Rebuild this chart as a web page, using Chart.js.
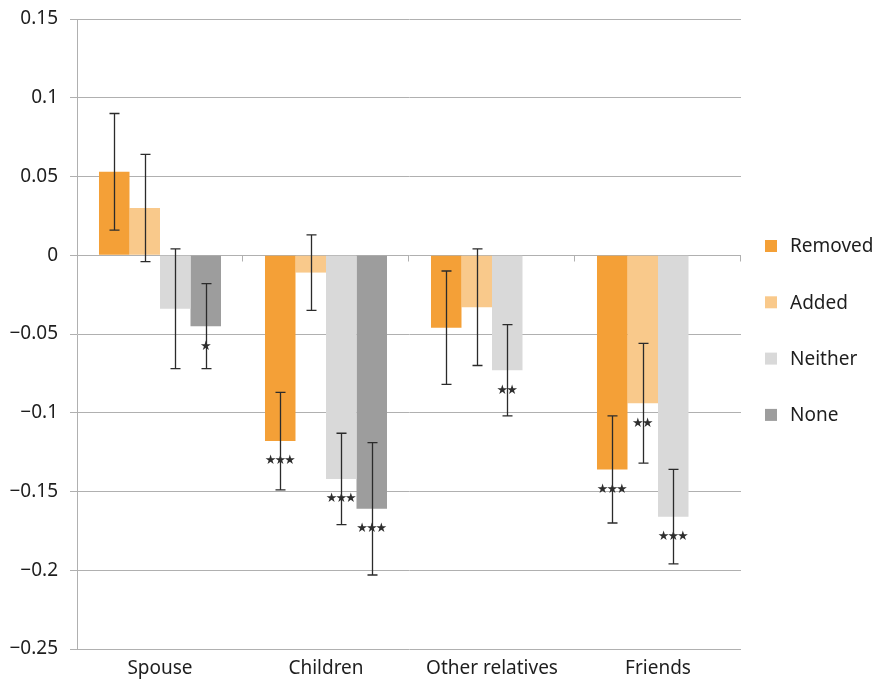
<!DOCTYPE html>
<html>
<head>
<meta charset="utf-8">
<script src="https://cdn.jsdelivr.net/npm/chart.js@4"></script>
<style>
  body { margin: 0; background: #fff; }
  #wrap { width: 881px; height: 680px; }
</style>
</head>
<body>
<div id="wrap"><canvas id="chart" width="881" height="680"></canvas></div>
<script>
const categories = ['Spouse', 'Children', 'Other relatives', 'Friends'];
const seriesNames = ['Removed', 'Added', 'Neither', 'None'];
const seriesColors = ['#f4a037', '#f9c98b', '#d9d9d9', '#9d9d9d'];

// mean values per series (null = not shown)
const removed = [0.053, -0.118, -0.046, -0.136];
const added   = [0.030, -0.011, -0.033, -0.094];
const neither = [-0.034, -0.142, -0.073, -0.166];
const none    = [-0.045, -0.161, null, null];

// error bar ends [low, high]
const removedErr = [[0.016, 0.090], [-0.149, -0.087], [-0.082, -0.010], [-0.170, -0.102]];
const addedErr   = [[-0.004, 0.064], [-0.035, 0.013], [-0.070, 0.004], [-0.132, -0.056]];
const neitherErr = [[-0.072, 0.004], [-0.171, -0.113], [-0.102, -0.044], [-0.196, -0.136]];
const noneErr    = [[-0.072, -0.018], [-0.203, -0.119], null, null];

// significance markers
const removedSig = ['', '***', '', '***'];
const addedSig   = ['', '', '', '**'];
const neitherSig = ['', '***', '**', '***'];
const noneSig    = ['*', '***', '', ''];

const yTicks = [0.15, 0.1, 0.05, 0, -0.05, -0.1, -0.15, -0.2, -0.25];

const FONT = "'Noto Sans', sans-serif";
const GRID = '#b0b0b0';
const TEXT = '#1e1e1e';

const values = [removed, added, neither, none];
const errs = [removedErr, addedErr, neitherErr, noneErr];
const sigs = [removedSig, addedSig, neitherSig, noneSig];

const datasets = seriesNames.map((name, i) => ({
    label: name,
    data: values[i],
    backgroundColor: seriesColors[i],
    borderWidth: 0,
    errorBars: errs[i],
    stars: sigs[i],
    barPercentage: 1,
    categoryPercentage: 0.735
}));

// error bars, stars, zero-line ticks and legend
const extras = {
    id: 'extras',
    afterDatasetsDraw(chart) {
        const ctx = chart.ctx;
        const y = chart.scales.y;
        ctx.save();

        // small ticks on zero line between categories
        const y0 = Math.round(y.getPixelForValue(0)) + 0.5;
        const step = (chart.chartArea.right - chart.chartArea.left) / categories.length;
        ctx.strokeStyle = GRID;
        ctx.lineWidth = 1;
        for (let i = 1; i <= categories.length; i++) {
            const px = Math.round(chart.chartArea.left + step * i) - 0.5;
            ctx.beginPath();
            ctx.moveTo(px, y0);
            ctx.lineTo(px, y0 + 6);
            ctx.stroke();
        }

        chart.data.datasets.forEach((ds, di) => {
            const meta = chart.getDatasetMeta(di);
            meta.data.forEach((bar, j) => {
                const e = ds.errorBars[j];
                if (!e) return;
                const cx = Math.round(bar.x) + 0.5;
                const lo = y.getPixelForValue(e[0]);
                const hi = y.getPixelForValue(e[1]);
                ctx.strokeStyle = '#2b2b2b';
                ctx.lineWidth = 1.3;
                ctx.beginPath();
                ctx.moveTo(cx, lo); ctx.lineTo(cx, hi);
                ctx.moveTo(cx - 5, lo); ctx.lineTo(cx + 5, lo);
                ctx.moveTo(cx - 5, hi); ctx.lineTo(cx + 5, hi);
                ctx.stroke();

                const s = ds.stars[j];
                if (s) {
                    const end = y.getPixelForValue(ds.data[j]);
                    ctx.fillStyle = '#2e2e2e';
                    ctx.font = "13px 'DejaVu Sans', sans-serif";
                    ctx.letterSpacing = '-2px';
                    ctx.textAlign = 'center';
                    ctx.textBaseline = 'middle';
                    ctx.fillText(s.replace(/\*/g, '\u2605'), bar.x - 1, end + 20);
                    ctx.letterSpacing = '0px';
                }
            });
        });

        // legend
        ctx.font = '19px ' + FONT;
        ctx.textAlign = 'left';
        ctx.textBaseline = 'middle';
        chart.data.datasets.forEach((ds, i) => {
            const cy = 246 + i * 56.3;
            ctx.fillStyle = ds.backgroundColor;
            ctx.fillRect(765, cy - 6, 12, 12);
            ctx.fillStyle = TEXT;
            ctx.fillText(ds.label, 790, cy + 1);
        });
        ctx.restore();
    }
};

new Chart(document.getElementById('chart'), {
    type: 'bar',
    data: { labels: categories, datasets: datasets },
    options: {
        responsive: false,
        devicePixelRatio: 1,
        animation: false,
        layout: { padding: { top: 19, right: 140, left: 0, bottom: 0 } },
        plugins: {
            legend: { display: false },
            tooltip: { enabled: false }
        },
        scales: {
            x: {
                grid: { display: false },
                border: { display: false },
                ticks: { color: TEXT, font: { family: FONT, size: 19 }, padding: 0 },
                afterFit(s) { s.height = 31; s.paddingLeft = 0; s.paddingRight = 0; }
            },
            y: {
                min: -0.25,
                max: 0.15,
                afterBuildTicks(s) { s.ticks = yTicks.map(v => ({ value: v })); },
                grid: { color: GRID, lineWidth: 1, tickLength: 7 },
                border: { color: GRID, width: 1 },
                ticks: {
                    color: TEXT,
                    font: { family: FONT, size: 19 },
                    padding: 12,
                    callback: v => String(Number(v.toFixed(2))).replace('-', '\u2212')
                },
                afterFit(s) { s.width = 77; s.paddingTop = 0; s.paddingBottom = 0; }
            }
        }
    },
    plugins: [extras]
});
</script>
</body>
</html>
